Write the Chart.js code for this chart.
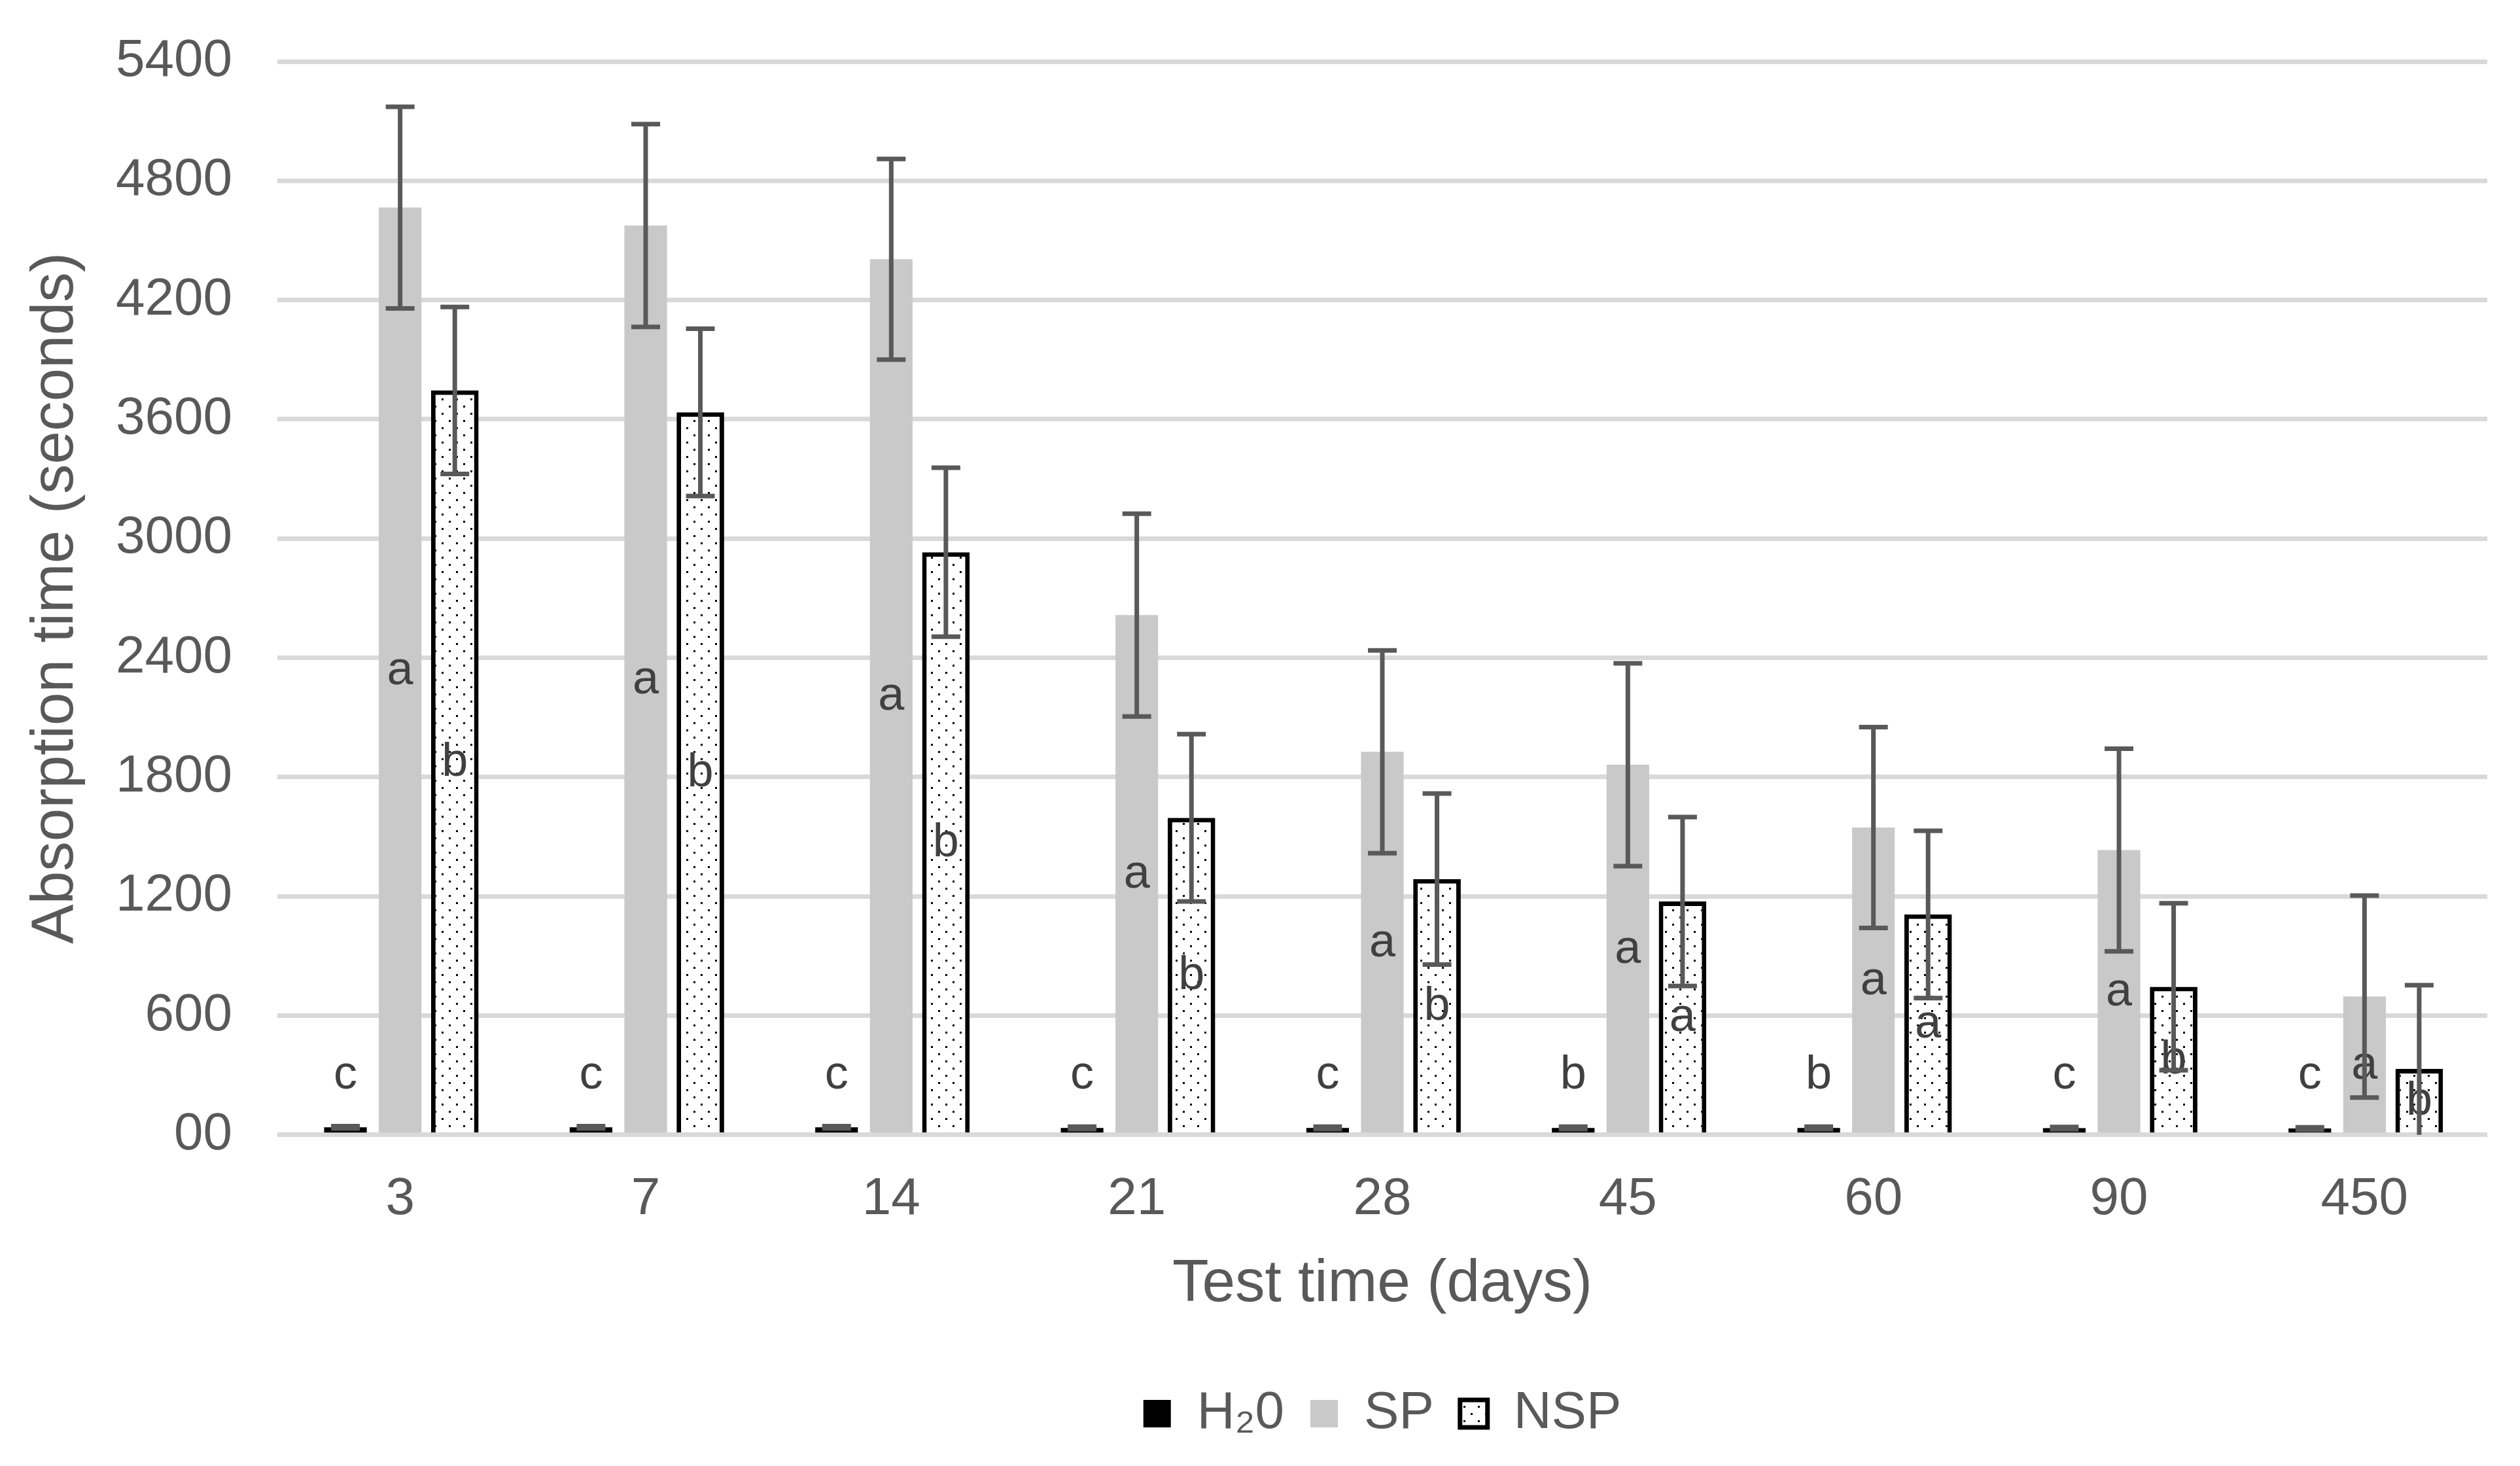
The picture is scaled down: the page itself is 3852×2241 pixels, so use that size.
<!DOCTYPE html>
<html>
<head>
<meta charset="utf-8">
<script src="https://cdn.jsdelivr.net/npm/chart.js@4.4.1/dist/chart.umd.min.js"></script>
<style>
  html, body { margin: 0; padding: 0; background: #ffffff; }
  canvas { display: block; }
</style>
</head>
<body>
<canvas id="myChart" width="3852" height="2241"></canvas>
<script>
"use strict";
const categories = ["3", "7", "14", "21", "28", "45", "60", "90", "450"];
const h2oValues = [38, 38, 38, 35, 35, 35, 35, 34, 32];
const h2oErrors = [6, 6, 6, 6, 6, 6, 6, 6, 6];
const spValues = [4665, 4575, 4405, 2615, 1927, 1862, 1546, 1433, 696];
const spErrors = [507, 510, 505, 510, 510, 510, 505, 510, 508];
const nspValues = [3745, 3635, 2931, 1595, 1287, 1174, 1109, 745, 332];
const nspErrors = [420, 421, 425, 421, 430, 425, 421, 420, 421];
const h2oLetters = ["c", "c", "c", "c", "c", "b", "b", "c", "c"];
const spLetters = ["a", "a", "a", "a", "a", "a", "a", "a", "a"];
const nspLetters = ["b", "b", "b", "b", "b", "a", "a", "b", "b"];
const yTickLabels = ["00", "600", "1200", "1800", "2400", "3000", "3600", "4200", "4800", "5400"];

const TEXT = "#595959";
const FONT = "'Liberation Sans', Arial, 'DejaVu Sans', sans-serif";
const H2O_LABEL_VALUE = 300;

// dotted fill used for NSP bars
function dotPattern() {
    const c = document.createElement("canvas");
    c.width = 22;
    c.height = 22;
    const g = c.getContext("2d");
    g.fillStyle = "#ffffff";
    g.fillRect(0, 0, 22, 22);
    g.fillStyle = "#000000";
    g.fillRect(4, 4, 3, 3);
    g.fillRect(15, 15, 3, 3);
    return g.createPattern(c, "repeat");
}
const ctx = document.getElementById("myChart");
const dots = dotPattern();

const errorBars = {
    id: "errorBars",
    afterDatasetsDraw(chart) {
        const c = chart.ctx;
        const area = chart.chartArea;
        const y = chart.scales.y;
        const lettersBySet = [h2oLetters, spLetters, nspLetters];
        c.save();
        // letters
        c.fillStyle = "#404040";
        c.font = "72px " + FONT;
        c.textAlign = "center";
        c.textBaseline = "middle";
        chart.data.datasets.forEach((ds, di) => {
            const meta = chart.getDatasetMeta(di);
            meta.data.forEach((bar, i) => {
                let py;
                if (di === 0) {
                    py = y.getPixelForValue(H2O_LABEL_VALUE);
                } else {
                    py = y.getPixelForValue(ds.data[i] / 2);
                }
                c.fillText(lettersBySet[di][i], bar.x, py);
            });
        });
        // error bars
        c.beginPath();
        c.rect(area.left, area.top, area.right - area.left, area.bottom - area.top);
        c.clip();
        c.strokeStyle = "#595959";
        c.lineWidth = 7;
        c.lineCap = "butt";
        chart.data.datasets.forEach((ds, di) => {
            const meta = chart.getDatasetMeta(di);
            meta.data.forEach((bar, i) => {
                const v = ds.data[i];
                const e = ds.errors[i];
                const top = y.getPixelForValue(v + e);
                const bot = y.getPixelForValue(v - e);
                c.beginPath();
                c.moveTo(bar.x, top);
                c.lineTo(bar.x, bot);
                c.moveTo(bar.x - 22, top);
                c.lineTo(bar.x + 22, top);
                c.moveTo(bar.x - 22, bot);
                c.lineTo(bar.x + 22, bot);
                c.stroke();
            });
        });
        c.restore();
    }
};

new Chart(ctx, {
    type: "bar",
    data: {
        labels: categories,
        datasets: [
            {
                label: "H\u20820",
                data: h2oValues,
                errors: h2oErrors,
                backgroundColor: "#000000",
                borderWidth: 0,
                barPercentage: 0.78,
                categoryPercentage: 0.668
            },
            {
                label: "SP",
                data: spValues,
                errors: spErrors,
                backgroundColor: "#c9c9c9",
                borderWidth: 0,
                barPercentage: 0.78,
                categoryPercentage: 0.668
            },
            {
                label: "NSP",
                data: nspValues,
                errors: nspErrors,
                backgroundColor: dots,
                borderColor: "#000000",
                borderWidth: 7,
                barPercentage: 0.87,
                categoryPercentage: 0.668
            }
        ]
    },
    options: {
        responsive: false,
        devicePixelRatio: 1,
        animation: false,
        layout: {
            padding: { top: 0, right: 50, bottom: 30, left: 0 }
        },
        plugins: {
            tooltip: { enabled: false },
            legend: {
                position: "bottom",
                fullSize: false,
                labels: {
                    color: TEXT,
                    font: { family: FONT, size: 80 },
                    boxWidth: 42,
                    boxHeight: 42,
                    padding: 40
                }
            }
        },
        scales: {
            x: {
                grid: { display: false },
                border: { display: false },
                ticks: {
                    color: TEXT,
                    font: { family: FONT, size: 80 },
                    padding: 43
                },
                title: {
                    display: true,
                    text: "Test time (days)",
                    color: TEXT,
                    font: { family: FONT, size: 91, lineHeight: 1.2 },
                    padding: { top: -15, bottom: 62 }
                }
            },
            y: {
                min: 0,
                max: 5400,
                grid: {
                    color: "#d9d9d9",
                    lineWidth: 7,
                    drawTicks: false
                },
                border: { display: false },
                ticks: {
                    stepSize: 600,
                    color: TEXT,
                    font: { family: FONT, size: 80, lineHeight: 0.625 },
                    padding: 69,
                    callback: (value, index) => yTickLabels[index]
                },
                title: {
                    display: true,
                    text: "Absorption time (seconds)",
                    color: TEXT,
                    font: { family: FONT, size: 91, lineHeight: 1.0 },
                    padding: { top: 40, bottom: -23 }
                }
            }
        }
    },
    plugins: [errorBars]
});
</script>
</body>
</html>
